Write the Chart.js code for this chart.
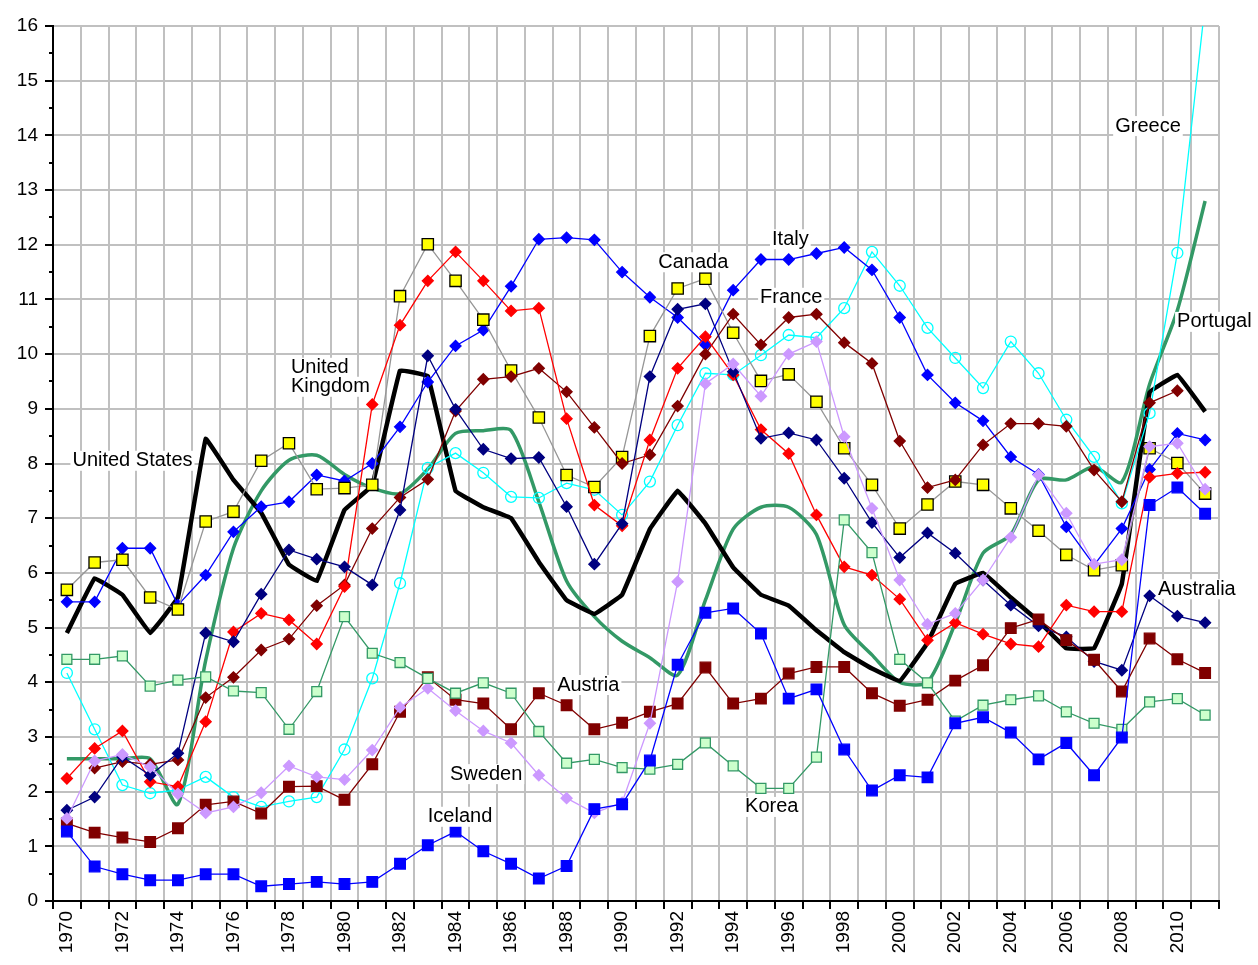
<!DOCTYPE html>
<html>
<head>
<meta charset="utf-8">
<title>Unemployment rates 1970-2011</title>
<script src="https://cdn.jsdelivr.net/npm/chart.js@4.4.1/dist/chart.umd.min.js"></script>
<style>
  body { margin: 0; background: #fff; }
  #wrap { width: 1258px; height: 965px; }
</style>
</head>
<body>
<div id="wrap"><canvas id="chart-1" width="1258" height="965"></canvas></div>
<script>
const years = ['1970','1971','1972','1973','1974','1975','1976','1977','1978','1979',
  '1980','1981','1982','1983','1984','1985','1986','1987','1988','1989',
  '1990','1991','1992','1993','1994','1995','1996','1997','1998','1999',
  '2000','2001','2002','2003','2004','2005','2006','2007','2008','2009','2010','2011'];

const us = [4.9,5.9,5.6,4.9,5.55,8.45,7.7,7.1,6.15,5.85,7.15,7.6,9.7,9.6,7.5,7.2,7.0,6.2,5.5,5.25,
  5.6,6.8,7.5,6.9,6.1,5.6,5.4,4.95,4.55,4.25,4.02,4.72,5.8,6.0,5.55,5.12,4.62,4.62,5.8,9.3,9.62,8.95];
const portugal = [2.6,2.6,2.6,2.6,1.77,4.4,6.45,7.5,8.06,8.15,7.8,7.55,7.45,7.9,8.55,8.6,8.6,7.3,5.85,5.2,
  4.75,4.45,4.13,5.5,6.8,7.2,7.2,6.7,5.05,4.5,4.0,4.0,5.08,6.36,6.7,7.7,7.7,7.94,7.66,9.45,10.8,12.8];
const greece = [4.17,3.14,2.12,1.97,2.03,2.27,1.9,1.72,1.82,1.9,2.77,4.07,5.81,7.92,8.19,7.83,7.39,7.37,7.64,7.52,
  7.06,7.67,8.7,9.65,9.62,9.98,10.35,10.3,10.84,11.87,11.25,10.48,9.93,9.38,10.23,9.65,8.8,8.12,7.27,8.92,11.85,16.4];
const italy = [5.47,5.47,6.45,6.45,5.41,5.96,6.75,7.21,7.3,7.79,7.68,8.0,8.67,9.49,10.15,10.44,11.24,12.1,12.13,12.09,
  11.5,11.04,10.67,10.17,11.17,11.73,11.73,11.84,11.95,11.54,10.67,9.62,9.11,8.78,8.12,7.8,6.84,6.14,6.81,7.89,8.55,8.43];
const canada = [5.69,6.19,6.24,5.55,5.33,6.94,7.12,8.05,8.37,7.53,7.55,7.61,11.06,12.01,11.34,10.63,9.7,8.84,7.79,7.57,
  8.12,10.33,11.2,11.38,10.39,9.51,9.63,9.13,8.28,7.61,6.81,7.25,7.67,7.61,7.18,6.77,6.33,6.05,6.14,8.28,8.01,7.45];
const france = [null,2.43,2.55,2.5,2.58,3.72,4.09,4.59,4.79,5.4,5.78,6.81,7.38,7.71,8.96,9.54,9.59,9.74,9.31,8.66,
  8.0,8.16,9.05,10.0,10.73,10.17,10.67,10.73,10.21,9.83,8.41,7.56,7.7,8.34,8.73,8.73,8.68,7.88,7.3,9.11,9.33,null];
const uk = [2.24,2.79,3.11,2.18,2.09,3.28,4.92,5.26,5.14,4.7,5.75,9.08,10.53,11.34,11.87,11.34,10.79,10.84,8.82,7.24,
  6.86,8.43,9.74,10.32,9.62,8.62,8.18,7.06,6.11,5.96,5.52,4.77,5.09,4.88,4.7,4.65,5.41,5.29,5.29,7.75,7.82,7.84];
const australia = [1.66,1.9,2.64,2.3,2.7,4.9,4.74,5.61,6.42,6.25,6.11,5.78,7.15,9.97,8.99,8.26,8.09,8.11,7.21,6.16,
  6.9,9.59,10.82,10.92,9.68,8.46,8.56,8.43,7.73,6.92,6.28,6.73,6.36,5.87,5.41,5.03,4.83,4.38,4.22,5.58,5.21,5.09];
const austria = [1.42,1.25,1.16,1.08,1.33,1.76,1.82,1.6,2.09,2.1,1.85,2.5,3.46,4.09,3.68,3.61,3.14,3.8,3.58,3.14,
  3.26,3.46,3.61,4.27,3.61,3.7,4.16,4.28,4.28,3.8,3.57,3.68,4.03,4.31,4.99,5.15,4.77,4.41,3.83,4.8,4.42,4.17];
const sweden = [1.51,2.56,2.68,2.45,1.96,1.61,1.72,1.98,2.47,2.27,2.22,2.76,3.54,3.89,3.48,3.11,2.89,2.3,1.88,1.61,
  1.8,3.25,5.84,9.46,9.82,9.23,10.0,10.23,8.49,7.18,5.87,5.06,5.26,5.87,6.65,7.79,7.09,6.16,6.24,8.31,8.37,7.53];
const korea = [4.42,4.42,4.48,3.93,4.04,4.1,3.84,3.81,3.14,3.83,5.2,4.53,4.36,4.07,3.8,3.99,3.8,3.1,2.52,2.59,
  2.44,2.41,2.5,2.89,2.47,2.06,2.06,2.63,6.97,6.37,4.42,3.99,3.29,3.58,3.68,3.75,3.46,3.25,3.14,3.64,3.7,3.4];
const iceland = [1.27,0.63,0.49,0.38,0.38,0.49,0.49,0.27,0.31,0.35,0.31,0.35,0.68,1.02,1.27,0.91,0.68,0.41,0.64,1.68,
  1.77,2.57,4.32,5.27,5.35,4.89,3.7,3.87,2.77,2.02,2.3,2.26,3.25,3.36,3.08,2.59,2.89,2.3,2.99,7.24,7.56,7.08];

// country names written on the plot: [lines, category index, value]
const notes = [
  [['United States'], 0.2, 8.05],
  [['United', 'Kingdom'], 8.07, 9.75],
  [['Greece'], 37.76, 14.17],
  [['Portugal'], 39.99, 10.59],
  [['Italy'], 25.4, 12.1],
  [['Canada'], 21.3, 11.68],
  [['France'], 24.97, 11.03],
  [['Australia'], 39.3, 5.7],
  [['Austria'], 17.66, 3.95],
  [['Sweden'], 13.8, 2.32],
  [['Iceland'], 13.0, 1.54],
  [['Korea'], 24.43, 1.72]
];

const FONT = '"Liberation Sans", Arial, sans-serif';

function thin(label, data, color, style, radius, fill, edge) {
  return {
    label, data,
    borderColor: color,
    borderWidth: 1.3,
    pointStyle: style,
    pointRadius: radius,
    pointBackgroundColor: fill,
    pointBorderColor: edge,
    pointBorderWidth: 1.3,
    tension: 0
  };
}

const notesPlugin = {
  id: 'notes',
  afterDatasetsDraw(chart) {
    const c = chart.ctx, x = chart.scales.x, y = chart.scales.y;
    c.save();
    // half unit ticks on the y axis
    c.strokeStyle = '#000';
    c.lineWidth = 2;
    for (let v = 0.5; v < 16; v++) {
      const py = Math.round(y.getPixelForValue(v));
      c.beginPath();
      c.moveTo(x.left - 4, py);
      c.lineTo(x.left, py);
      c.stroke();
    }
    c.font = '20px ' + FONT;
    c.textBaseline = 'middle';
    c.textAlign = 'left';
    notes.forEach(([lines, idx, val]) => {
      const px = x.getPixelForValue(0) + idx * (x.getPixelForValue(1) - x.getPixelForValue(0));
      lines.forEach((t, k) => {
        const py = y.getPixelForValue(val) + k * 19;
        const w = c.measureText(t).width;
        c.fillStyle = '#fff';
        c.fillRect(px - 2, py - 10, w + 4, 20);
        c.fillStyle = '#000';
        c.fillText(t, px, py);
      });
    });
    c.restore();
  }
};

new Chart(document.getElementById('chart-1'), {
  type: 'line',
  data: {
    labels: years,
    datasets: [
      thin('Iceland', iceland, '#0000ff', 'rect', 7.5, '#0000ff', '#0000ff'),
      thin('Korea', korea, '#339966', 'rect', 7, '#ccffcc', '#339966'),
      thin('Sweden', sweden, '#cc99ff', 'rectRot', 5.5, '#cc99ff', '#cc99ff'),
      thin('Austria', austria, '#800000', 'rect', 7.5, '#800000', '#800000'),
      thin('Australia', australia, '#000080', 'rectRot', 5.5, '#000080', '#000080'),
      thin('United Kingdom', uk, '#ff0000', 'rectRot', 5.5, '#ff0000', '#ff0000'),
      thin('France', france, '#800000', 'rectRot', 5.5, '#800000', '#800000'),
      thin('Canada', canada, '#969696', 'rect', 8, '#ffff00', '#000000'),
      thin('Italy', italy, '#0000ff', 'rectRot', 5.5, '#0000ff', '#0000ff'),
      thin('Greece', greece, '#00ffff', 'circle', 5.5, 'rgba(0,0,0,0)', '#00ffff'),
      {
        label: 'United States', data: us,
        borderColor: '#000', borderWidth: 4.5, pointRadius: 0, tension: 0.05
      },
      {
        label: 'Portugal', data: portugal,
        borderColor: '#339966', borderWidth: 3.5, pointRadius: 0, tension: 0.25
      }
    ]
  },
  options: {
    responsive: false,
    animation: false,
    devicePixelRatio: 1,
    layout: { padding: { top: 26, right: 39, left: 0, bottom: 0 } },
    plugins: { legend: { display: false }, tooltip: { enabled: false } },
    scales: {
      x: {
        offset: true,
        grid: { offset: true, color: '#c0c0c0', lineWidth: 2, tickColor: '#000', tickLength: 8 },
        border: { color: '#000', width: 2 },
        ticks: {
          autoSkip: false, maxRotation: 90, minRotation: 90, padding: 2,
          color: '#000', font: { family: FONT, size: 19 },
          callback: (v, i) => (i % 2 === 0 ? years[i] : '')
        },
        afterFit: s => { s.height = 64; }
      },
      y: {
        min: 0, max: 16,
        grid: { color: '#c0c0c0', lineWidth: 2, tickColor: '#000', tickLength: 8 },
        border: { color: '#000', width: 2 },
        ticks: { stepSize: 1, padding: 7, color: '#000', font: { family: FONT, size: 19 } },
        afterFit: s => { s.width = 53; }
      }
    }
  },
  plugins: [notesPlugin]
});
</script>
</body>
</html>
